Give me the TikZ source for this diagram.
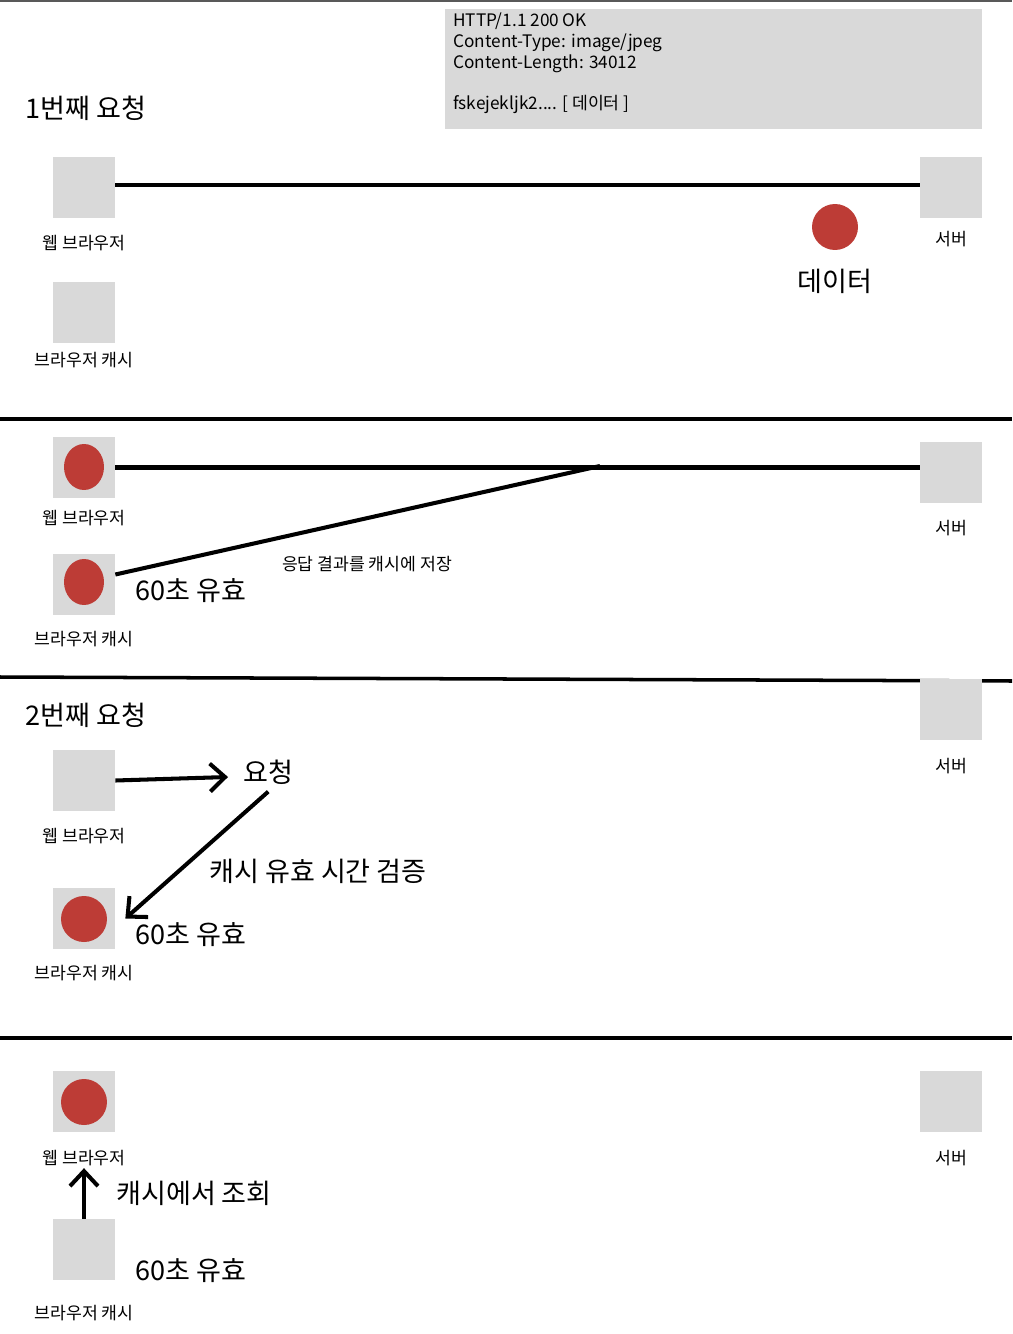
\documentclass[tikz,border=0pt]{standalone}
\usepackage{fontspec}
\setmainfont{Noto Sans CJK KR}
\usepackage{xcolor}
\usetikzlibrary{arrows.meta,shapes.geometric}
\definecolor{boxgray}{RGB}{217,217,217}
\definecolor{datared}{RGB}{189,60,54}
\tikzstyle{box}=[rectangle,fill=boxgray,minimum width=1.24cm,minimum height=1.22cm,inner sep=0pt]
\tikzstyle{dot}=[circle,fill=datared,minimum size=0.92cm,inner sep=0pt]
\tikzstyle{oval}=[ellipse,fill=datared,minimum width=0.8cm,minimum height=0.92cm,inner sep=0pt]
\tikzstyle{lbl}=[font=\fontsize{9.8}{11}\selectfont,inner sep=0pt]
\tikzstyle{big}=[font=\fontsize{15.4}{17}\selectfont,inner sep=0pt]
\tikzstyle{hdr}=[font=\fontsize{9.8}{11}\selectfont,inner sep=0pt,anchor=base west]
\tikzstyle{wire}=[line width=2.3pt]
\tikzstyle{rule}=[line width=2pt]
\tikzstyle{flow}=[line width=2.3pt,-{Straight Barb[length=0.3cm,width=0.56cm]}]

\begin{document}
\begin{tikzpicture}[x=0.02cm,y=-0.02cm]
        \useasboundingbox (0,0) rectangle (1012,1334);
        \draw [line width=1.1pt,black!65] (0,1) -- (1012,1);
        % response header
        \node at (713.5,69) [rectangle,fill=boxgray,minimum width=10.74cm,minimum height=2.4cm] (resp) {};
        \node at (453,27) [hdr] (h1) {HTTP/1.1 200 OK};
        \node at (453,48) [hdr] (h2) {Content-Type: image/jpeg};
        \node at (453,69) [hdr] (h3) {Content-Length: 34012};
        \node at (453,110) [hdr] (h4) {fskejekljk2.... [ 데이터 ]};
        % 1st request
        \node at (25,108) [big,anchor=west] (t1) {1번째 요청};
        \node at (84,187.5) [box] (b1) {};
        \node at (84,243) [lbl] (b1l) {웹 브라우저};
        \node at (84,312.5) [box] (c1) {};
        \node at (84,360) [lbl] (c1l) {브라우저 캐시};
        \node at (951,187.5) [box] (s1) {};
        \node at (951,239) [lbl] (s1l) {서버};
        \node at (835,227) [dot] (d1) {};
        \node at (835,281) [big] (d1l) {데이터};
        \draw [wire] ([yshift=0.05cm]b1.east) -- ([yshift=0.05cm]s1.west);
        \draw [rule] (0,419) -- (1012,419);
        % store in cache
        \node at (84,467.5) [box] (b2) {};
        \node at (84,467) [oval] (d2) {};
        \node at (84,518) [lbl] (b2l) {웹 브라우저};
        \node at (84,584.5) [box] (c2) {};
        \node at (84,582) [oval] (e2) {};
        \node at (84,639) [lbl] (c2l) {브라우저 캐시};
        \node at (951,472.5) [box] (s2) {};
        \node at (951,528) [lbl] (s2l) {서버};
        \coordinate (keep) at (600,466);
        \draw [wire] (b2.east) -- (b2.east -| s2.west);
        \draw [wire] (keep) -- ([yshift=0.2cm]c2.east);
        \node at (367,564) [lbl] (k2) {응답 결과를 캐시에 저장};
        \node at (135,591) [big,anchor=west] (v2) {60초 유효};
        \draw [rule] (0,677) -- (1012,681);
        % 2nd request
        \node at (25,715) [big,anchor=west] (t3) {2번째 요청};
        \node at (951,709.5) [box] (s3) {};
        \node at (951,766) [lbl] (s3l) {서버};
        \node at (84,780.5) [box] (b3) {};
        \node at (84,836) [lbl] (b3l) {웹 브라우저};
        \node at (243,772) [big,anchor=west] (req) {요청};
        \node at (84,918.5) [box] (c3) {};
        \node at (84,919) [dot] (d3) {};
        \node at (84,973) [lbl] (c3l) {브라우저 캐시};
        \node at (209,871) [big,anchor=west] (chk) {캐시 유효 시간 검증};
        \node at (135,935) [big,anchor=west] (v3) {60초 유효};
        \draw [flow] (b3.east) -- ([xshift=-0.3cm,yshift=-0.1cm]req.west);
        \draw [flow] ([yshift=-0.14cm]req.south) -- ([xshift=0.2cm]c3.east);
        \draw [rule] (0,1038) -- (1012,1038);
        % read from cache
        \node at (84,1101.5) [box] (b4) {};
        \node at (84,1102) [dot] (d4) {};
        \node at (84,1158) [lbl] (b4l) {웹 브라우저};
        \node at (951,1101.5) [box] (s4) {};
        \node at (951,1158) [lbl] (s4l) {서버};
        \node at (84,1249.5) [box] (c4) {};
        \node at (84,1313) [lbl] (c4l) {브라우저 캐시};
        \node at (116,1193) [big,anchor=west] (look) {캐시에서 조회};
        \node at (135,1271) [big,anchor=west] (v4) {60초 유효};
        \draw [flow] (c4.north) -- ([yshift=-0.04cm]b4l.south);
\end{tikzpicture}
\end{document}
